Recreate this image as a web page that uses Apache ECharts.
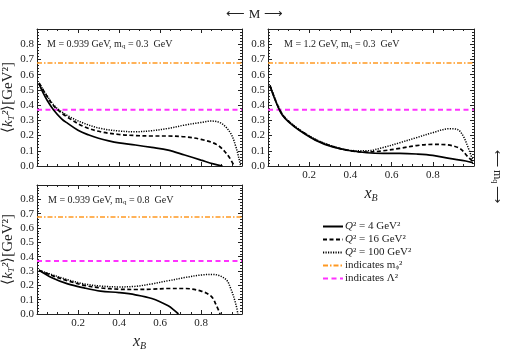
<!DOCTYPE html>
<html><head><meta charset="utf-8">
<script src="https://cdn.jsdelivr.net/npm/echarts@6/dist/echarts.min.js"></script>
<style>html,body{margin:0;padding:0;background:#fff}#c{width:509px;height:352px}</style>
</head><body><div id="c"></div>
<script>
// ---- data ----
var xTicks = [0.2, 0.4, 0.6, 0.8];
var yTicks = [0.0, 0.1, 0.2, 0.3, 0.4, 0.5, 0.6, 0.7, 0.8];
var mPhiSq = 0.677;
var lambdaSq = 0.37;
var panelLabels = [
  ['0.939', '0.3'],
  ['1.2', '0.3'],
  ['0.939', '0.8']
];
// panel 1: M = 0.939, mq = 0.3
var p1Q4 = [[0.01,0.54],[0.03,0.48],[0.05,0.43],[0.08,0.37],[0.12,0.31],[0.15,0.28],[0.2,0.235],[0.25,0.205],[0.3,0.182],[0.35,0.165],[0.4,0.152],[0.48,0.138],[0.56,0.122],[0.64,0.104],[0.72,0.072],[0.8,0.039],[0.86,0.014],[0.905,0]];
var p1Q16 = [[0.01,0.545],[0.03,0.5],[0.05,0.455],[0.07,0.415],[0.1,0.37],[0.15,0.32],[0.23,0.258],[0.31,0.225],[0.4,0.207],[0.48,0.2],[0.56,0.197],[0.64,0.197],[0.72,0.192],[0.8,0.175],[0.88,0.138],[0.93,0.072],[0.962,0]];
var p1Q100 = [[0.01,0.545],[0.03,0.5],[0.05,0.46],[0.07,0.42],[0.1,0.377],[0.15,0.33],[0.23,0.28],[0.31,0.247],[0.4,0.23],[0.48,0.225],[0.56,0.232],[0.64,0.247],[0.72,0.269],[0.8,0.286],[0.85,0.295],[0.9,0.28],[0.945,0.214],[0.97,0.127],[0.985,0.05],[0.993,0]];
// panel 2: M = 1.2, mq = 0.3
var p2Q4 = [[0.01,0.525],[0.03,0.45],[0.05,0.385],[0.07,0.334],[0.1,0.29],[0.15,0.236],[0.23,0.17],[0.31,0.127],[0.4,0.1],[0.48,0.087],[0.56,0.083],[0.64,0.083],[0.72,0.079],[0.8,0.07],[0.88,0.05],[0.96,0.033],[0.995,0.022]];
var p2Q16 = [[0.01,0.527],[0.03,0.453],[0.05,0.388],[0.07,0.337],[0.1,0.293],[0.15,0.239],[0.23,0.173],[0.31,0.13],[0.4,0.1],[0.48,0.092],[0.56,0.1],[0.64,0.116],[0.72,0.134],[0.8,0.142],[0.86,0.14],[0.93,0.116],[0.97,0.061],[0.995,0.028]];
var p2Q100 = [[0.01,0.53],[0.03,0.456],[0.05,0.392],[0.07,0.34],[0.1,0.296],[0.15,0.242],[0.23,0.176],[0.31,0.132],[0.4,0.102],[0.48,0.1],[0.56,0.122],[0.64,0.153],[0.72,0.186],[0.8,0.219],[0.88,0.245],[0.92,0.24],[0.945,0.203],[0.97,0.127],[0.995,0.033]];
// panel 3: M = 0.939, mq = 0.8
var p3Q4 = [[0.01,0.305],[0.07,0.255],[0.15,0.21],[0.23,0.182],[0.31,0.16],[0.4,0.149],[0.48,0.134],[0.56,0.108],[0.64,0.057],[0.67,0.025],[0.69,0]];
var p3Q16 = [[0.01,0.305],[0.07,0.27],[0.15,0.232],[0.23,0.2],[0.31,0.182],[0.4,0.173],[0.48,0.171],[0.56,0.173],[0.64,0.178],[0.72,0.178],[0.8,0.16],[0.85,0.123],[0.875,0.06],[0.893,0]];
var p3Q100 = [[0.01,0.305],[0.07,0.276],[0.15,0.239],[0.23,0.21],[0.31,0.195],[0.4,0.189],[0.48,0.193],[0.56,0.21],[0.64,0.232],[0.72,0.254],[0.8,0.272],[0.86,0.276],[0.92,0.243],[0.945,0.178],[0.97,0.068],[0.98,0]];
var panels = [[p1Q4,p1Q16,p1Q100],[p2Q4,p2Q16,p2Q100],[p3Q4,p3Q16,p3Q100]];

// ---- chart ----
var FONT = 'Liberation Serif';
var gridPos = [
  {left:36, top:29, width:206, height:137},
  {left:268, top:29, width:206, height:137},
  {left:36, top:185, width:206, height:137}
];
var textOffset = [11, 16, 12];
var showXLabels = [false, true, true];
var showYName = [true, false, true];
var lineStyles = [
  {color:'#000', width:1.7, type:'solid'},
  {color:'#000', width:1.7, type:[4,2.5]},
  {color:'#000', width:1.5, type:[1.2,1.3]}
];
var legendNames = ['Q4','Q16','Q100','mphi','lambda'];

var grids=[], xAxes=[], yAxes=[], series=[];
function fmt1(v){ return v.toFixed(1); }
function frameAxis(i, pos, isX, extra){
  var a = {
    gridIndex:i, type:'value', position:pos,
    min:0, max:isX ? 1 : 0.9, interval:isX ? 0.2 : 0.1,
    axisLine:{show:true, onZero:false, lineStyle:{color:'#222', width:1}},
    axisTick:{show:true, inside:true, length:4, lineStyle:{color:'#222', width:1}},
    minorTick:{show:true, splitNumber:isX ? 4 : 5, length:2, lineStyle:{color:'#222', width:1}},
    axisLabel:{show:false},
    splitLine:{show:false}
  };
  return Object.assign(a, extra || {});
}
gridPos.forEach(function(g, i){
  grids.push(g);
  var xIdx = xAxes.length, yIdx = yAxes.length;
  xAxes.push(frameAxis(i, 'bottom', true, {
    axisLabel:{show:showXLabels[i], fontFamily:FONT, fontSize:11, color:'#222', margin:4,
      showMinLabel:false, showMaxLabel:false,
      formatter:function(v){ return xTicks.indexOf(Math.round(v*10)/10) >= 0 ? fmt1(v) : ''; }},
    name: showXLabels[i] ? 'x{s|B}' : '',
    nameLocation:'middle', nameGap:19,
    nameTextStyle:{fontFamily:FONT, fontSize:16, fontStyle:'italic', color:'#222',
      rich:{s:{fontFamily:FONT, fontSize:10, fontStyle:'italic', color:'#222', padding:[8,0,0,0]}}}
  }));
  xAxes.push(frameAxis(i, 'top', true));
  yAxes.push(frameAxis(i, 'left', false, {
    axisLabel:{show:true, fontFamily:FONT, fontSize:11, color:'#222', margin:3, showMaxLabel:false,
      formatter:function(v){ return yTicks.indexOf(Math.round(v*10)/10) >= 0 ? fmt1(v) : ''; }},
    name: showYName[i] ? '⟨{i|k}{s|T}{i|²}⟩[GeV²]' : '',
    nameLocation:'middle', nameGap:21,
    nameTextStyle:{fontFamily:FONT, fontSize:15, color:'#222',
      rich:{i:{fontFamily:FONT, fontSize:15, fontStyle:'italic', color:'#222'},
            s:{fontFamily:FONT, fontSize:9, fontStyle:'italic', color:'#222', padding:[6,0,0,0]}}}
  }));
  yAxes.push(frameAxis(i, 'right', false));

  panels[i].forEach(function(d, k){
    series.push({
      type:'line', name:legendNames[k], xAxisIndex:xIdx, yAxisIndex:yIdx,
      data:d, smooth:0.35, symbol:'none', lineStyle:lineStyles[k],
      itemStyle:{color:'#000'}, z:3
    });
  });
  series.push({type:'line', name:'mphi', xAxisIndex:xIdx, yAxisIndex:yIdx,
    data:[[0,mPhiSq],[1,mPhiSq]], symbol:'none', itemStyle:{color:'#FF9922'},
    lineStyle:{color:'#FF9922', width:1.5, type:[5,2,1.5,2]}, z:2});
  series.push({type:'line', name:'lambda', xAxisIndex:xIdx, yAxisIndex:yIdx,
    data:[[0,lambdaSq],[1,lambdaSq]], symbol:'none', itemStyle:{color:'#FF33FF'},
    lineStyle:{color:'#FF33FF', width:2, type:[5,3.5]}, z:2});
});

var legendLabels = {
  Q4:'{i|Q}² = 4 GeV²',
  Q16:'{i|Q}² = 16 GeV²',
  Q100:'{i|Q}² = 100 GeV²',
  mphi:'indicates m{s|ϕ}²',
  lambda:'indicates Λ²'
};

var panelText = panelLabels.map(function(p, i){
  return {
    type:'text', left:gridPos[i].left + textOffset[i], top:gridPos[i].top + 10,
    style:{text:'M = ' + p[0] + ' GeV, m{s|q} = ' + p[1] + '  GeV',
      font:'10px ' + FONT, fill:'#222',
      rich:{s:{fontFamily:FONT, fontSize:7, fill:'#222', padding:[4,0,0,0]}}}
  };
});

var option = {
  animation:false,
  grid:grids, xAxis:xAxes, yAxis:yAxes, series:series,
  legend:{
    data:legendNames, orient:'vertical', left:317, top:216,
    itemWidth:20, itemHeight:10, itemGap:2,
    itemStyle:{opacity:0},
    textStyle:{fontFamily:FONT, fontSize:11, color:'#222', padding:[0,0,0,-3],
      rich:{i:{fontFamily:FONT, fontSize:11, fontStyle:'italic', color:'#222'},
            s:{fontFamily:FONT, fontSize:7, color:'#222', padding:[4,0,0,0]}}},
    formatter:function(n){ return legendLabels[n]; }
  },
  graphic: panelText.concat([
    {type:'text', left:'center', top:8, x:3,
      style:{text:'⟵ M ⟶', font:'13px ' + FONT, fill:'#222'}},
    {type:'text', x:504, y:150, rotation:-Math.PI/2, originX:0, originY:0,
      style:{text:'⟵ m{s|q} ⟶', font:'12px ' + FONT, fill:'#222',
        rich:{s:{fontFamily:FONT, fontSize:8, fill:'#222', padding:[5,0,0,0]}}}}
  ])
};
var chart = echarts.init(document.getElementById('c'), null, {renderer:'canvas'});
chart.setOption(option);
</script></body></html>
